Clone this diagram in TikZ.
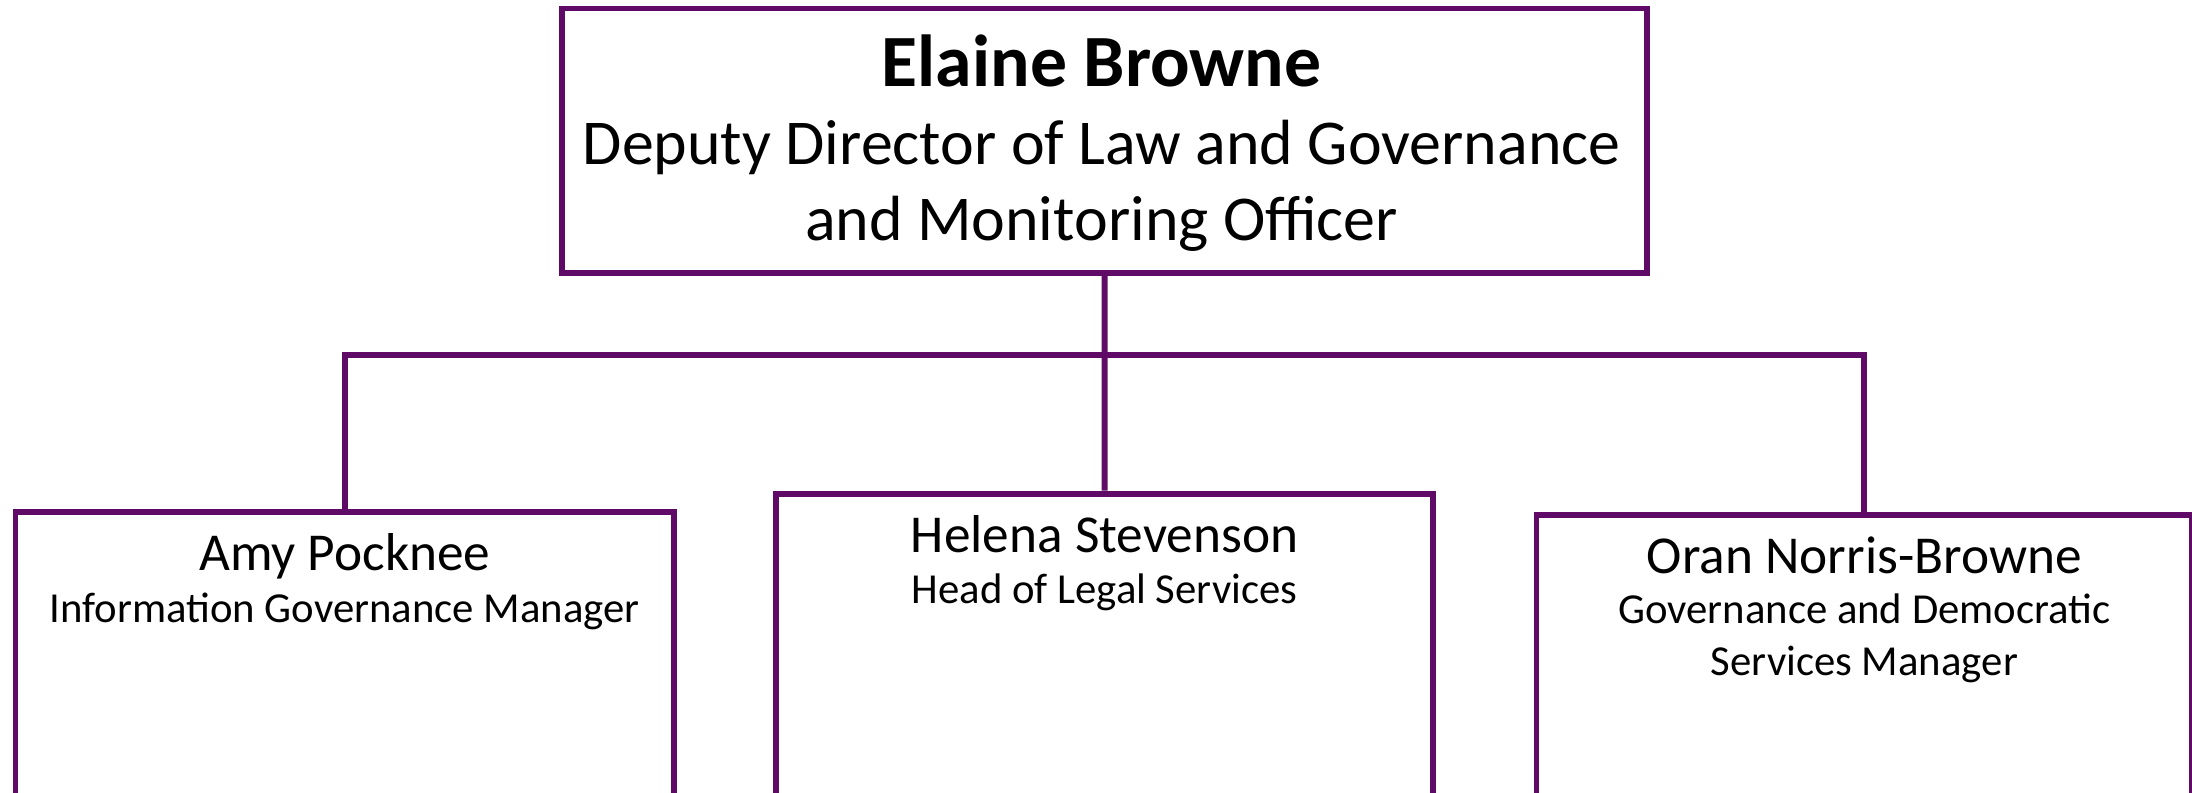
\documentclass[tikz,border=0pt]{standalone}
\usepackage{fontspec}
\setmainfont{Carlito}
\usetikzlibrary{positioning}
\definecolor{orgpurple}{RGB}{94,10,102}
\newcommand{\headname}{\fontsize{30}{36}\selectfont\bfseries}
\newcommand{\headrole}{\fontsize{26}{32}\selectfont}
\newcommand{\staffname}{\fontsize{21.7}{26}\selectfont}
\newcommand{\staffrole}{\fontsize{17.4}{21}\selectfont}
\tikzset{
  post/.style={draw=orgpurple, line width=2.4pt, inner sep=0pt, anchor=north west,
    minimum width=9.42cm, minimum height=6cm},
  link/.style={draw=orgpurple, line width=2.4pt},
  line/.style={anchor=base, inner sep=0pt}
}
\begin{document}
\begin{tikzpicture}
\clip (0,0) rectangle (31.36,-11.34);
% boxes
\node[post, minimum width=15.52cm, minimum height=3.78cm] (elaine) at (8.0,-0.08) {};
\node[post] (amy) at (0.18,-7.28) {};
\node[post, minimum width=9.4cm] (helena) at (11.06,-7.02) {};
\node[post, minimum width=9.38cm] (oran) at (21.94,-7.32) {};
% texts
\node[line] (elainename) at (15.76,-1.24) {\headname Elaine Browne};
\node[line] (elainerole1) at (15.76,-2.36) {\headrole Deputy Director of Law and Governance};
\node[line] (elainerole2) at (15.76,-3.44) {\headrole and Monitoring Officer};
\node[line] (amyname) at (amy.north |- 0,-8.16) {\staffname Amy Pocknee};
\node[line] (amyrole) at (amy.north |- 0,-8.9) {\staffrole Information Governance Manager};
\node[line] (helenaname) at (helena.north |- 0,-7.9) {\staffname Helena Stevenson};
\node[line] (helenarole) at (helena.north |- 0,-8.64) {\staffrole Head of Legal Services};
\node[line] (oranname) at (oran.north |- 0,-8.2) {\staffname Oran Norris-Browne};
\node[line] (oranrole1) at (oran.north |- 0,-8.92) {\staffrole Governance and Democratic};
\node[line] (oranrole2) at (oran.north |- 0,-9.66) {\staffrole Services Manager};
% connectors
\coordinate (busl) at (amy.north |- 0,-5.08);
\coordinate (busr) at (oran.north |- 0,-5.08);
\draw[link] (elaine.south) -- (helena.north);
\draw[link] (amy.north) -- (busl) -- (busr) -- (oran.north);
\end{tikzpicture}
\end{document}
